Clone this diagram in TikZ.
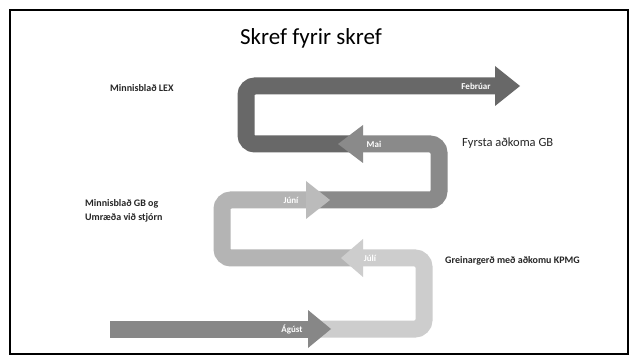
\documentclass[tikz,border=0pt]{standalone}
\usepackage{fontspec}
\setmainfont{Carlito}
\definecolor{cfeb}{HTML}{686868}
\definecolor{cmai}{HTML}{8A8A8A}
\definecolor{cjuni}{HTML}{B4B4B4}
\definecolor{cjuli}{HTML}{CDCDCD}
\definecolor{cagu}{HTML}{878787}
\tikzset{
  band/.style={line width=17pt, rounded corners=9pt, line cap=butt},
  lbl/.style={font=\fontsize{10}{14}\selectfont\bfseries, anchor=west, text=black!85, inner sep=0pt, align=left},
  lblbig/.style={font=\fontsize{12.5}{14}\selectfont, anchor=west, text=black!85, inner sep=0pt},
  atxt/.style={font=\fontsize{9}{10}\selectfont\bfseries, text=white, inner sep=0pt},
  ttl/.style={font=\fontsize{23}{26}\selectfont, inner sep=0pt}
}
\begin{document}
\begin{tikzpicture}[x=1pt,y=-1pt]
\useasboundingbox (0,0) rectangle (632,358);
\fill[white] (0,0) rectangle (632,358);
\draw[line width=1.3pt] (10,10) rectangle (628,354);
\node[ttl] (title) at (311,38) {Skref fyrir skref};
% levels
\def\La{86}\def\Lb{144}\def\Lc{200}\def\Ld{258}\def\Le{329}
% Febrúar
\draw[band, cfeb] (352,\Lb) -- (246,\Lb) -- (246,\La) -- (497,\La);
\fill[cfeb] (495,\La-20) -- (520,\La) -- (495,\La+20) -- cycle;
\node[atxt] (feb) at (476,\La) {Febrúar};
% Mai
\draw[band, cmai] (360,\Lb) -- (439,\Lb) -- (439,\Lc) -- (318,\Lc);
\fill[cmai] (363,\Lb-19) -- (338,\Lb) -- (363,\Lb+19) -- cycle;
\node[atxt] (mai) at (374,\Lb) {Mai};
% Júní
\draw[band, cjuni] (308,\Lc) -- (222,\Lc) -- (222,\Ld) -- (352,\Ld);
\fill[cjuni!90!white] (306,\Lc-19) -- (330,\Lc) -- (306,\Lc+19) -- cycle;
\node[atxt] (juni) at (291,\Lc) {Júní};
% Júlí
\draw[band, cjuli] (360,\Ld) -- (424,\Ld) -- (424,\Le) -- (312,\Le);
\fill[cjuli] (363,\Ld-19) -- (341,\Ld) -- (363,\Ld+19) -- cycle;
\node[atxt] (juli) at (370,\Ld) {Júlí};
% Ágúst
\draw[band, cagu] (110,\Le) -- (310,\Le);
\fill[cagu] (308,\Le-19) -- (331,\Le) -- (308,\Le+19) -- cycle;
\node[atxt] (agust) at (292,\Le) {Ágúst};
% labels
\node[lbl] (lex) at (110,88) {Minnisblað LEX};
\node[lblbig] (fyrsta) at (462,143) {Fyrsta aðkoma GB};
\node[lbl] (gb) at (85,211) {Minnisblað GB og\\Umræða við stjórn};
\node[lbl] (kpmg) at (445,261) {Greinargerð með aðkomu KPMG};
\end{tikzpicture}
\end{document}
